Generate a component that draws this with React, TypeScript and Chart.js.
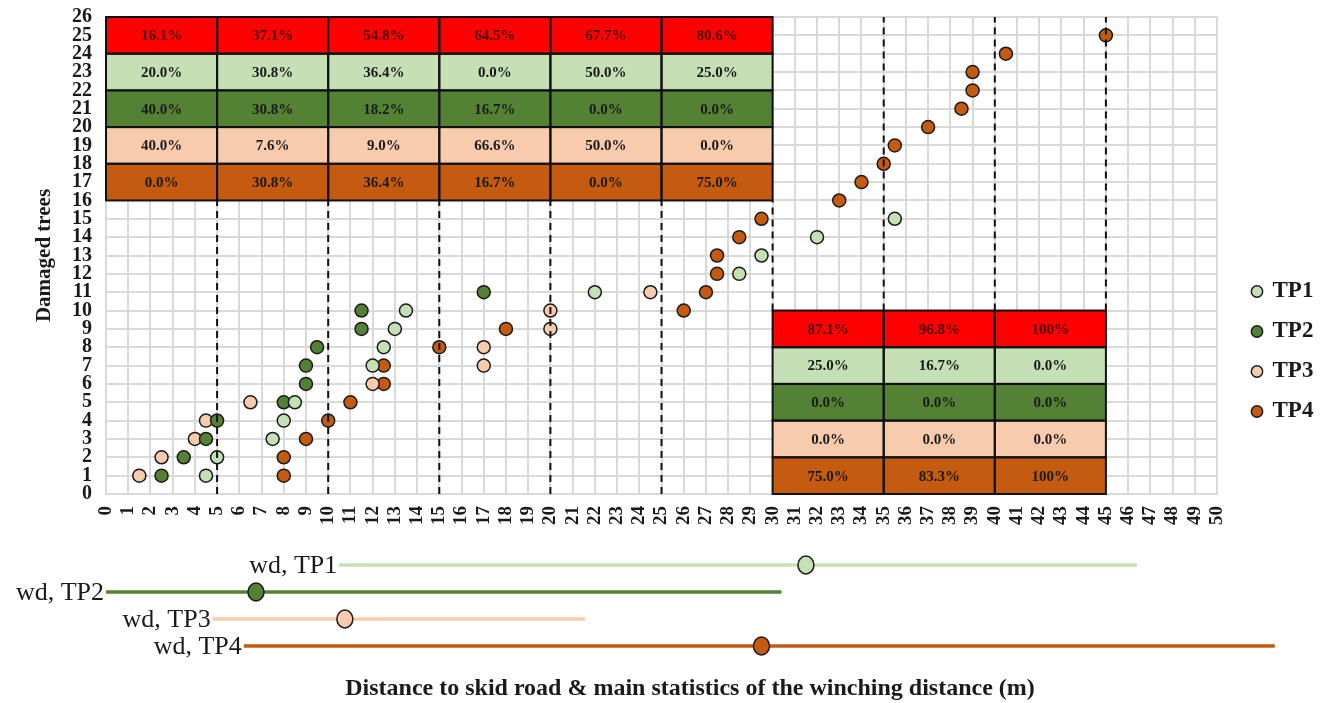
import React, { useEffect, useRef } from "react";
import { Chart, registerables } from "chart.js";

Chart.register(...registerables);

const FONT = "'Liberation Serif', 'Times New Roman', serif";
const INK = "#1a1a1a";
const W = 1322;
const H = 703;

// ---- series -------------------------------------------------------------
const seriesNames = ["TP1", "TP2", "TP3", "TP4"];
const seriesColors = ["#c5e0b4", "#548235", "#f8cbad", "#c55a11"];
const totalColor = "#ff0000";

const tp1X = [4.5, 5, 7.5, 8, 8.5, 12, 12.5, 13, 13.5, 22, 28.5, 29.5, 32, 35.5];
const tp1Y = [1, 2, 3, 4, 5, 7, 8, 9, 10, 11, 12, 13, 14, 15];
const tp2X = [2.5, 3.5, 4.5, 5, 8, 9, 9, 9.5, 11.5, 11.5, 17];
const tp2Y = [1, 2, 3, 4, 5, 6, 7, 8, 9, 10, 11];
const tp3X = [1.5, 2.5, 4, 4.5, 6.5, 12, 17, 17, 20, 20, 24.5];
const tp3Y = [1, 2, 3, 4, 5, 6, 7, 8, 9, 10, 11];
const tp4X = [8, 8, 9, 10, 11, 12.5, 12.5, 15, 18, 26, 27, 27.5, 27.5, 28.5, 29.5, 33, 34, 35, 35.5, 37, 38.5, 39, 39, 40.5, 45];
const tp4Y = [1, 2, 3, 4, 5, 6, 7, 8, 9, 10, 11, 12, 13, 14, 15, 16, 17, 18, 19, 20, 21, 22, 23, 24, 25];

// ---- percentage table per 5 m bin ---------------------------------------
const binStarts = [0, 5, 10, 15, 20, 25, 30, 35, 40];
const binWidth = 5;
const tableTopY = [26, 26, 26, 26, 26, 26, 10, 10, 10];
const tableRowSpan = 2;
const pctTotal = ["16.1%", "37.1%", "54.8%", "64.5%", "67.7%", "80.6%", "87.1%", "96.8%", "100%"];
const pctTP1 = ["20.0%", "30.8%", "36.4%", "0.0%", "50.0%", "25.0%", "25.0%", "16.7%", "0.0%"];
const pctTP2 = ["40.0%", "30.8%", "18.2%", "16.7%", "0.0%", "0.0%", "0.0%", "0.0%", "0.0%"];
const pctTP3 = ["40.0%", "7.6%", "9.0%", "66.6%", "50.0%", "0.0%", "0.0%", "0.0%", "0.0%"];
const pctTP4 = ["0.0%", "30.8%", "36.4%", "16.7%", "0.0%", "75.0%", "75.0%", "83.3%", "100%"];

// ---- dashed bin separators ----------------------------------------------
const dashX = [5, 10, 15, 20, 25, 30, 35, 40, 45];
const dashFrom = [0, 0, 0, 0, 0, 10, 10, 10, 10];
const dashTo = [16, 16, 16, 16, 16, 16, 26, 26, 26];

// ---- winching distance statistics (min, mean, max) -----------------------
const wdLabels = ["wd, TP1", "wd, TP2", "wd, TP3", "wd, TP4"];
const wdMin = [10.5, 0, 4.8, 6.2];
const wdMean = [31.5, 6.75, 10.75, 29.5];
const wdMax = [46.4, 30.4, 21.55, 52.6];
const wdRow = [1, 2, 3, 4];

// ---- layout constants ----------------------------------------------------
const PLOT_TOP = 17;
const PLOT_BOTTOM = 494;
const TITLE_SIZE = 24;
const WD_ROW_PX = 27;
const WD_FIRST_PX = 565;
const WD_MIN = 1 - (WD_FIRST_PX - PLOT_TOP) / WD_ROW_PX;
const WD_MAX = WD_MIN + (PLOT_BOTTOM - PLOT_TOP) / WD_ROW_PX;

const tablePlugin = {
  id: "binTable",
  beforeDatasetsDraw(chart: any) {
    const { ctx } = chart;
    const x = chart.scales.x;
    const y = chart.scales.y;
    const rows = [pctTotal, pctTP1, pctTP2, pctTP3, pctTP4];
    const fills = [totalColor, ...seriesColors];
    ctx.save();
    const cells: any[] = [];
    binStarts.forEach((b, c) => {
      const x0 = x.getPixelForValue(b);
      const x1 = x.getPixelForValue(b + binWidth);
      rows.forEach((row, r) => {
        const y0 = y.getPixelForValue(tableTopY[c] - r * tableRowSpan);
        const y1 = y.getPixelForValue(tableTopY[c] - (r + 1) * tableRowSpan);
        ctx.fillStyle = fills[r];
        ctx.fillRect(x0, y0, x1 - x0, y1 - y0);
        cells.push({ x0, x1, y0, y1, text: row[c], r });
      });
    });
    ctx.strokeStyle = "#111";
    ctx.lineWidth = 2;
    cells.forEach((cl) => ctx.strokeRect(cl.x0, cl.y0, cl.x1 - cl.x0, cl.y1 - cl.y0));
    ctx.font = `bold 15px ${FONT}`;
    ctx.textAlign = "center";
    ctx.textBaseline = "middle";
    cells.forEach((cl) => {
      ctx.fillStyle = cl.r === 0 ? "#4a0000" : INK;
      ctx.fillText(cl.text, (cl.x0 + cl.x1) / 2, (cl.y0 + cl.y1) / 2 + 1);
    });
    ctx.restore();
  },
};

// labels and mean markers of the winching-distance bars (outside the plot area)
const wdPlugin = {
  id: "wdLabels",
  afterDatasetsDraw(chart: any) {
    const { ctx } = chart;
    const x = chart.scales.x;
    const yw = chart.scales.yw;
    ctx.save();
    wdLabels.forEach((t, i) => {
      const py = yw.getPixelForValue(wdRow[i]);
      ctx.font = `26px ${FONT}`;
      ctx.fillStyle = INK;
      ctx.textAlign = "right";
      ctx.textBaseline = "middle";
      ctx.fillText(t, x.getPixelForValue(wdMin[i]) - 2, py + 1);
      ctx.beginPath();
      ctx.ellipse(x.getPixelForValue(wdMean[i]), py, 8, 9, 0, 0, Math.PI * 2);
      ctx.fillStyle = seriesColors[i];
      ctx.fill();
      ctx.lineWidth = 1.5;
      ctx.strokeStyle = INK;
      ctx.stroke();
    });
    ctx.restore();
  },
};

function pts(xs: number[], ys: number[]) {
  return xs.map((v, i) => ({ x: v, y: ys[i] }));
}

export default function App() {
  const ref = useRef<HTMLCanvasElement>(null);
  useEffect(() => {
    const seriesData = [pts(tp1X, tp1Y), pts(tp2X, tp2Y), pts(tp3X, tp3Y), pts(tp4X, tp4Y)];
    const pointSets: any[] = seriesNames.map((n, i) => ({
      type: "scatter",
      label: n,
      data: seriesData[i],
      backgroundColor: seriesColors[i],
      borderColor: INK,
      borderWidth: 1.5,
      pointRadius: 6.5,
      pointHoverRadius: 6.5,
      order: 1,
    }));
    const dashSets: any[] = dashX.map((v, i) => ({
      type: "line",
      label: "sep" + v,
      data: [
        { x: v, y: dashFrom[i] },
        { x: v, y: dashTo[i] },
      ],
      borderColor: "#111",
      borderWidth: 2,
      borderDash: [7, 5],
      pointRadius: 0,
      fill: false,
      order: 0,
    }));
    const wdSets: any[] = wdLabels.map((n, i) => ({
      type: "line",
      label: n,
      yAxisID: "yw",
      data: [
        { x: wdMin[i], y: wdRow[i] },
        { x: wdMean[i], y: wdRow[i] },
        { x: wdMax[i], y: wdRow[i] },
      ],
      borderColor: seriesColors[i],
      borderWidth: 3.5,
      pointRadius: 0,
      fill: false,
      clip: false,
      order: 2,
    }));

    const chart = new Chart(ref.current as HTMLCanvasElement, {
      type: "scatter",
      data: { datasets: [...pointSets, ...dashSets, ...wdSets] },
      options: {
        responsive: false,
        animation: false,
        devicePixelRatio: 1,
        events: [],
        layout: { padding: { left: 58, right: 0, top: 0, bottom: 0 } },
        scales: {
          x: {
            type: "linear",
            position: "bottom",
            min: 0,
            max: 50,
            ticks: {
              stepSize: 1,
              autoSkip: false,
              minRotation: 90,
              maxRotation: 90,
              padding: 12,
              color: INK,
              font: { family: FONT, size: 19, weight: "bold" },
            },
            grid: { color: "#d9d9d9", lineWidth: 2, drawTicks: false },
            border: { color: "#d9d9d9", width: 2 },
            afterFit: (s: any) => {
              s.height = H - PLOT_BOTTOM - TITLE_SIZE * 1.2;
            },
          },
          y: {
            type: "linear",
            position: "left",
            min: 0,
            max: 26,
            ticks: {
              stepSize: 1,
              autoSkip: false,
              padding: 14,
              color: INK,
              font: { family: FONT, size: 20, weight: "bold", lineHeight: 0.3 },
            },
            grid: { color: "#d9d9d9", lineWidth: 2, drawTicks: false },
            border: { color: "#d9d9d9", width: 2 },
            title: {
              display: true,
              text: "Damaged trees",
              color: INK,
              font: { family: FONT, size: 21, weight: "bold", lineHeight: 1.2 },
              padding: { top: -25.6, bottom: 0 },
            },
            afterFit: (s: any) => {
              s.width = 48;
            },
          },
          yw: {
            type: "linear",
            position: "right",
            reverse: true,
            min: WD_MIN,
            max: WD_MAX,
            ticks: { display: false },
            grid: { display: false },
            border: { display: false },
            afterFit: (s: any) => {
              s.width = 19;
            },
          },
        } as any,
        plugins: {
          legend: {
            position: "right",
            maxWidth: 86,
            labels: {
              usePointStyle: true,
              pointStyle: "circle",
              boxWidth: 8,
              boxHeight: 8,
              padding: 17,
              color: INK,
              font: { family: FONT, size: 23, weight: "bold" },
              filter: (item: any) => item.datasetIndex < 4,
            },
          },
          title: {
            display: true,
            position: "bottom",
            text: "Distance to skid road & main statistics of the winching distance (m)",
            color: INK,
            font: { family: FONT, size: TITLE_SIZE, weight: "bold", lineHeight: 1.2 },
            padding: 0,
          },
          tooltip: { enabled: false },
        },
      } as any,
      plugins: [tablePlugin, wdPlugin],
    });
    return () => chart.destroy();
  }, []);

  return (
    <div style={{ position: "absolute", left: 0, top: 0, width: W, height: H, background: "#fff" }}>
      <canvas ref={ref} width={W} height={H} style={{ display: "block", width: W, height: H }} />
    </div>
  );
}
